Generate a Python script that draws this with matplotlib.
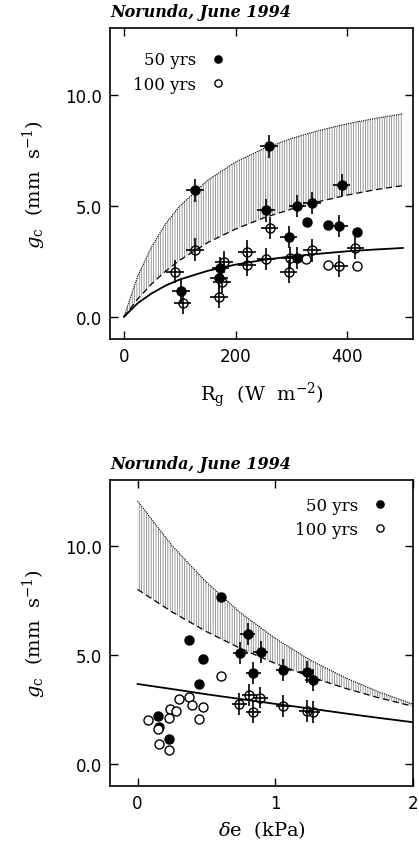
import matplotlib.pyplot as plt
import numpy as np

# ---- upper panel: conductance vs global radiation ----
rg_curve = [0, 25, 50, 75, 100, 150, 200, 250, 300, 350, 400, 450, 500]
rg_upper = [0, 1.85, 3.18, 4.20, 4.99, 6.15, 6.97, 7.57, 8.03, 8.39, 8.69, 8.93, 9.14]
rg_lower = [0, 0.81, 1.49, 2.06, 2.55, 3.34, 3.95, 4.45, 4.85, 5.19, 5.48, 5.72, 5.91]
rg_model = [0, 0.62, 1.06, 1.41, 1.68, 2.07, 2.35, 2.56, 2.72, 2.84, 2.95, 3.03, 3.10]

rg50_bar_x = [103, 128, 171, 173, 254, 260, 295, 310, 311, 337, 386, 390]
rg50_bar_y = [1.14, 5.69, 1.75, 2.20, 4.79, 7.67, 3.59, 2.64, 4.99, 5.14, 4.08, 5.95]
rg50_x = [328, 365, 417]
rg50_y = [4.26, 4.14, 3.81]

rg100_bar_x = [91, 105, 127, 170, 176, 180, 221, 221, 254, 261, 295, 297, 337, 386, 415]
rg100_bar_y = [2.04, 0.63, 3.03, 0.90, 1.55, 2.47, 2.94, 2.34, 2.61, 4.00, 2.04, 2.64, 2.99, 2.28, 3.09]
rg100_x = [327, 365, 417]
rg100_y = [2.61, 2.34, 2.27]

# ---- lower panel: conductance vs vapour pressure deficit ----
de_curve = [0, 0.25, 0.5, 0.75, 1.0, 1.25, 1.5, 1.75, 2.0]
de_upper = [12.05, 10.01, 8.33, 6.92, 5.76, 4.78, 3.98, 3.31, 2.75]
de_lower = [8.0, 6.97, 6.07, 5.29, 4.61, 4.01, 3.49, 3.04, 2.65]
de_model = [3.67, 3.44, 3.20, 2.98, 2.76, 2.55, 2.33, 2.12, 1.92]

de50_bar_x = [0.80, 0.745, 0.896, 0.842, 1.058, 1.23, 1.272]
de50_bar_y = [5.95, 5.07, 5.13, 4.16, 4.31, 4.20, 3.85]
de50_x = [0.606, 0.372, 0.473, 0.444, 0.147, 0.159, 0.232]
de50_y = [7.66, 5.68, 4.81, 3.67, 2.22, 1.72, 1.16]

de100_bar_x = [0.739, 0.812, 0.893, 0.842, 1.058, 1.23, 1.272]
de100_bar_y = [2.75, 3.16, 3.05, 2.37, 2.68, 2.45, 2.37]
de100_x = [0.606, 0.304, 0.377, 0.392, 0.473, 0.444, 0.237, 0.283, 0.232, 0.075, 0.147, 0.159, 0.232]
de100_y = [4.05, 2.98, 3.07, 2.70, 2.63, 2.07, 2.53, 2.42, 2.12, 2.04, 1.61, 0.93, 0.65]

plt.rcParams['mathtext.fontset'] = 'dejavuserif'
plt.rcParams['hatch.linewidth'] = 0.5

fig = plt.figure(figsize=(4.19, 8.45), dpi=100)
ax1 = fig.add_axes([0.2625, 0.5976, 0.723, 0.368])
ax2 = fig.add_axes([0.2625, 0.0686, 0.723, 0.362])


def draw_panel(ax, cx, up, lo, mod, f_bx, f_by, f_x, f_y, o_bx, o_by, o_x, o_y, xerr):
    # shaded band between the two bounds (vertical hatching)
    ax.fill_between(cx, lo, up, facecolor='none', edgecolor='0.45',
                    hatch='|||||||', linewidth=0)
    ax.plot(cx, up, color='black', lw=0.8, ls=(0, (1, 1)))
    ax.plot(cx, lo, color='black', lw=0.9, ls=(0, (5, 3)))
    ax.plot(cx, mod, color='black', lw=1.3)

    eb = dict(xerr=xerr, yerr=0.5, fmt='o', ms=6.5, ecolor='black',
              elinewidth=1.2, capsize=0, mec='black', mew=1.0)
    ax.errorbar(f_bx, f_by, mfc='black', **eb)
    ax.errorbar(o_bx, o_by, mfc='none', **eb)
    ax.plot(f_x, f_y, 'o', ms=6.5, mfc='black', mec='black', ls='none',
            label='50 yrs')
    ax.plot(o_x, o_y, 'o', ms=6.5, mfc='white', mec='black', mew=1.0,
            ls='none', label='100 yrs')

    ax.set_ylim(-1, 13)
    ax.set_yticks([0, 5, 10])
    ax.set_yticklabels(['0.0', '5.0', '10.0'])
    ax.tick_params(direction='in', top=True, right=True, length=6,
                   width=1, labelsize=12, pad=6)
    for s in ax.spines.values():
        s.set_linewidth(1.2)
    ax.set_ylabel(r'$g_{\rm c}$  (mm  s$^{-1}$)', family='DejaVu Serif',
                  fontsize=14, labelpad=12)
    ax.text(0.0, 1.025, 'Norunda, June 1994', transform=ax.transAxes,
            family='DejaVu Serif', style='italic', weight='bold',
            fontsize=11.5, ha='left', va='bottom')


draw_panel(ax1, rg_curve, rg_upper, rg_lower, rg_model,
           rg50_bar_x, rg50_bar_y, rg50_x, rg50_y,
           rg100_bar_x, rg100_bar_y, rg100_x, rg100_y, 16)
ax1.set_xlim(-25, 518)
ax1.set_xticks([0, 200, 400])
ax1.set_xlabel(r'R$_{\rm g}$  (W  m$^{-2}$)', family='DejaVu Serif',
               fontsize=14, labelpad=10)
ax1.legend(loc='upper left', markerfirst=False, frameon=False,
           prop={'family': 'DejaVu Serif', 'size': 12}, markerscale=0.8,
           handletextpad=0.3, borderaxespad=1.0, labelspacing=0.45)

draw_panel(ax2, de_curve, de_upper, de_lower, de_model,
           de50_bar_x, de50_bar_y, de50_x, de50_y,
           de100_bar_x, de100_bar_y, de100_x, de100_y, 0.055)
ax2.set_xlim(-0.2, 2.0)
ax2.set_xticks([0, 1, 2])
ax2.set_xlabel(r'$\delta$e  (kPa)', family='DejaVu Serif', fontsize=14,
               labelpad=4)
ax2.legend(loc='upper right', markerfirst=False, frameon=False,
           prop={'family': 'DejaVu Serif', 'size': 12}, markerscale=0.8,
           handletextpad=0.3, borderaxespad=0.6, labelspacing=0.45)

fig.savefig('out.png', dpi=100)
